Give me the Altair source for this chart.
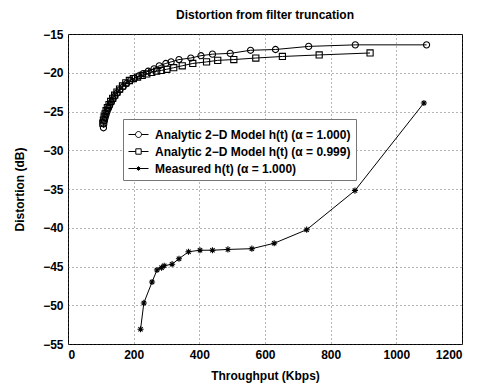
import altair as alt
import pandas as pd

# Analytic 2-D model, alpha = 1.000 (circles)
c_x = [108, 109, 111, 113, 116, 119, 123, 127, 132, 137, 143, 150, 158, 168, 178, 190,
       203, 216, 229, 244, 262, 278, 298, 314, 338, 374, 405, 440, 494, 556, 632, 733, 875, 1092]
c_y = [-27.1, -26.6, -26.2, -25.8, -25.4, -25.0, -24.6, -24.2, -23.8, -23.4, -23.0, -22.6,
       -22.2, -21.8, -21.4, -21.0, -20.7, -20.4, -20.1, -19.8, -19.5, -19.1, -18.8, -18.6,
       -18.3, -18.1, -17.8, -17.6, -17.5, -17.1, -17.0, -16.6, -16.4, -16.4]

# Analytic 2-D model, alpha = 0.999 (squares)
s_x = [106, 108, 110, 113, 116, 120, 125, 130, 136, 142, 149, 157, 166, 176, 187, 199,
       212, 226, 240, 255, 270, 284, 301, 322, 348, 380, 422, 456, 505, 572, 653, 765, 920]
s_y = [-26.5, -26.1, -25.7, -25.3, -24.9, -24.5, -24.1, -23.7, -23.3, -22.9, -22.5, -22.1,
       -21.7, -21.3, -21.0, -20.75, -20.55, -20.35, -20.15, -19.95, -19.8, -19.7, -19.55,
       -19.35, -19.1, -18.8, -18.6, -18.4, -18.3, -18.1, -17.9, -17.7, -17.45]

# Measured h(t), alpha = 1.000 (asterisks)
m_x = [221, 231, 256, 271, 285, 293, 317, 338, 367, 402, 440, 487, 560, 628, 727, 874, 1084]
m_y = [-53.1, -49.7, -47.0, -45.45, -45.15, -44.9, -44.7, -44.0, -43.1, -42.9, -42.9,
       -42.8, -42.7, -42.0, -40.25, -35.2, -23.9]

series_names = [
    "Analytic 2\u2212D Model h(t) (\u03b1 = 1.000)",
    "Analytic 2\u2212D Model h(t) (\u03b1 = 0.999)",
    "Measured h(t) (\u03b1 = 1.000)",
]

x_ticks = [0, 200, 400, 600, 800, 1000, 1200]
y_ticks = [-55, -50, -45, -40, -35, -30, -25, -20, -15]

rows = []
for name, xs, ys in zip(series_names, [c_x, s_x, m_x], [c_y, s_y, m_y]):
    for i, (xv, yv) in enumerate(zip(xs, ys)):
        rows.append({"series": name, "x": xv, "y": yv, "order": i})
df = pd.DataFrame(rows)

asterisk = "M-1,0L1,0M0,-1L0,1M-0.7,-0.7L0.7,0.7M-0.7,0.7L0.7,-0.7"
point_shapes = ["circle", "square", asterisk]

leg_circle = "M-1,0L-0.3,0M0.3,0L1,0M-0.3,0A0.3,0.3,0,1,1,0.3,0A0.3,0.3,0,1,1,-0.3,0"
leg_square = "M-1,0L-0.27,0M0.27,0L1,0M-0.27,-0.27L0.27,-0.27L0.27,0.27L-0.27,0.27Z"
leg_star = ("M-1,0L1,0M0,-0.22L0,0.22M-0.16,-0.16L0.16,0.16M-0.16,0.16L0.16,-0.16")
legend_shapes = [leg_circle, leg_square, leg_star]

font = "Liberation Sans"

def xenc():
    return alt.X("x:Q", scale=alt.Scale(domain=[0, 1200], nice=False),
                 axis=alt.Axis(values=x_ticks, title="Throughput (Kbps)", format="d"))

def yenc():
    return alt.Y("y:Q", scale=alt.Scale(domain=[-55, -15], nice=False),
                 axis=alt.Axis(values=y_ticks, title="Distortion (dB)", format="d",
                               labelOverlap=False))

base = alt.Chart(df)

lines = base.mark_line(color="black", strokeWidth=1).encode(
    x=xenc(), y=yenc(), detail="series:N", order="order:Q"
)

points = base.mark_point(color="black", filled=False, strokeWidth=1.1, size=38, opacity=1).encode(
    x=xenc(), y=yenc(),
    shape=alt.Shape("series:N", scale=alt.Scale(domain=series_names, range=point_shapes),
                    legend=None),
)

legend_layer = base.mark_point(color="black", filled=False, strokeWidth=1, opacity=0).encode(
    x=xenc(), y=yenc(),
    shape=alt.Shape(
        "series:N",
        scale=alt.Scale(domain=series_names, range=legend_shapes),
        legend=alt.Legend(
            title=None, orient="none", legendX=55, legendY=85,
            symbolSize=400, symbolOpacity=1, symbolStrokeColor="black",
            symbolStrokeWidth=1, symbolFillColor="transparent",
            labelFont=font, labelFontSize=12, labelFontWeight="bold", labelColor="black",
            labelLimit=400, labelOffset=6, rowPadding=-4,
            padding=5, strokeColor="#777", fillColor="white",
        ),
    ),
)

chart = alt.layer(lines, points, legend_layer).resolve_scale(shape="independent").properties(
    width=394, height=310,
    title=alt.Title("Distortion from filter truncation", font=font, fontSize=12,
                    fontWeight="bold", color="black", offset=6),
    padding={"left": 60, "top": 26, "right": 9, "bottom": 41},
    autosize=alt.AutoSizeParams(type="none"),
).configure_view(
    stroke="black", strokeWidth=1
).configure_axis(
    labelFont=font, labelFontSize=12, labelFontWeight="bold", labelColor="black",
    titleFont=font, titleFontSize=12, titleFontWeight="bold", titleColor="black",
    grid=True, gridColor="#444", gridDash=[1, 3], gridWidth=0.8,
    domain=False, tickSize=0, labelPadding=5,
).configure_axisY(titlePadding=16).configure_axisX(titlePadding=10)

chart.save("out.html", embed_options={"renderer": "svg", "actions": False})
